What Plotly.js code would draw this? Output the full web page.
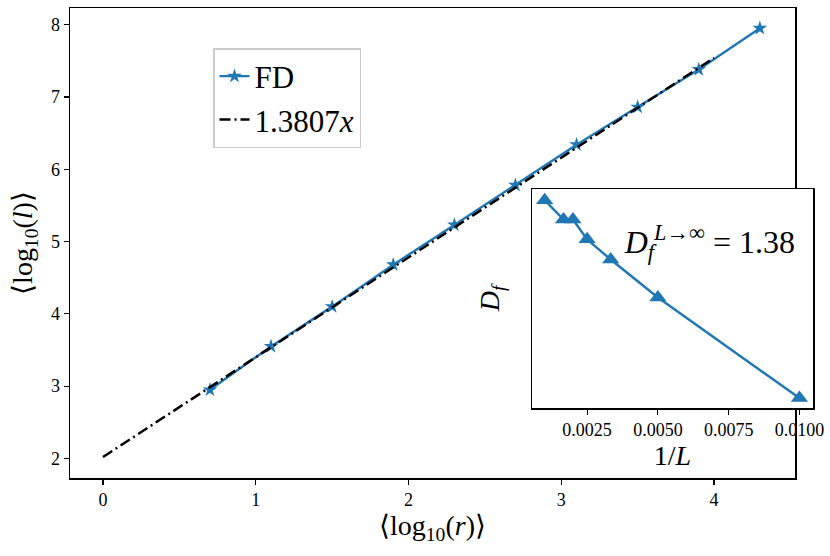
<!DOCTYPE html>
<html>
<head>
<meta charset="utf-8">
<script src="https://cdn.plot.ly/plotly-3.0.1.min.js"></script>
<style>html,body{margin:0;padding:0;background:#fff}#chart{width:830px;height:556px}</style>
</head>
<body>
<div id="chart"></div>
<script>
// Main panel: FD data
const fdX = [0.70, 1.10, 1.50, 1.90, 2.30, 2.70, 3.10, 3.50, 3.90, 4.30];
const fdY = [2.95, 3.55, 4.10, 4.68, 5.23, 5.78, 6.34, 6.86, 7.38, 7.95];
// Fit line 1.3807x (endpoints)
const fitX = [0.0, 4.0];
const fitY = [2.02, 7.54];
// Inset: D_f versus 1/L
const invL = [0.001, 0.001667, 0.002, 0.0025, 0.003333, 0.005, 0.01];
const Df   = [1.3760, 1.3715, 1.3715, 1.3669, 1.3622, 1.3534, 1.3300];
const mainXTicks = [0, 1, 2, 3, 4];
const mainYTicks = [2, 3, 4, 5, 6, 7, 8];
const insetXTicks = [0.0025, 0.005, 0.0075, 0.01];
const insetXTickText = ['0.0025', '0.0050', '0.0075', '0.0100'];

const FONT = 'Liberation Serif';
const BLUE = '#1f77b4';
const tf = {family: FONT, size: 18, color: 'black'};
const ttl = {family: FONT, size: 28, color: 'black'};

const traces = [
  {x: fdX, y: fdY, type: 'scatter', mode: 'lines+markers', name: 'FD',
   line: {color: BLUE, width: 2.4}, marker: {symbol: 'star', size: 11, color: BLUE},
   xaxis: 'x', yaxis: 'y'},
  {x: fitX, y: fitY, type: 'scatter', mode: 'lines', name: '1.3807<i>x</i>',
   line: {color: 'black', width: 2.5, dash: '11px,4px,2px,4px'}, xaxis: 'x', yaxis: 'y'},
  {x: invL, y: Df, type: 'scatter', mode: 'lines+markers', showlegend: false,
   line: {color: BLUE, width: 2.4}, marker: {symbol: 'triangle-up', size: 15, color: BLUE},
   xaxis: 'x2', yaxis: 'y2', cliponaxis: false},
  {x: [0.00383], y: [1.3655], type: 'scatter', mode: 'text', showlegend: false,
   text: ['<i>D</i><sub><i>f</i></sub><sup><i>L</i>→∞</sup> = 1.38'],
   textposition: 'middle right', textfont: {family: FONT, size: 32, color: 'black'},
   xaxis: 'x2', yaxis: 'y2', cliponaxis: true, hoverinfo: 'skip'}
];
const W = 750;
const ax = {ticks: 'outside', ticklen: 5, tickwidth: 1.2, tickcolor: 'black',
    showline: true, linecolor: 'black', linewidth: 1.5, mirror: true,
    showgrid: false, zeroline: false};
const layout = {
  width: 830, height: 556,
  margin: {l: 70, r: 10, t: 8, b: 78},
  paper_bgcolor: 'white', plot_bgcolor: 'white',
  font: {family: FONT, size: 18, color: 'black'},
  showlegend: true,
  legend: {x: (213 - 70) / W, y: (478 - 48) / 470, xanchor: 'left', yanchor: 'top',
    bgcolor: 'white', bordercolor: '#cccccc', borderwidth: 1.5,
    font: {family: FONT, size: 31, color: 'black'}, traceorder: 'normal'},
  xaxis: Object.assign({}, ax, {domain: [0, 725 / W], range: [-0.216, 4.53], tickvals: mainXTicks, tickfont: tf,
    title: {text: '⟨log<sub>10</sub>(<i>r</i>)⟩', font: ttl, standoff: 4}}),
  yaxis: Object.assign({}, ax, {domain: [0, 1], range: [1.73, 8.23], tickvals: mainYTicks, tickfont: tf,
    title: {text: '⟨log<sub>10</sub>(<i>l</i>)⟩', font: ttl, standoff: 10}}),
  xaxis2: Object.assign({}, ax, {domain: [(532 - 70) / W, (813 - 70) / W], anchor: 'y2',
    range: [0.000553, 0.01048], tickvals: insetXTicks, ticktext: insetXTickText, tickfont: tf,
    title: {text: '1/<i>L</i>', font: ttl, standoff: 2}}),
  yaxis2: Object.assign({}, ax, {domain: [(478 - 408) / 470, (478 - 189) / 470], anchor: 'x2',
    range: [1.3277, 1.3786], showticklabels: false, ticks: '',
    title: {text: '<i>D<sub>f</sub></i>', font: ttl, standoff: 22}})
};
Plotly.newPlot('chart', traces, layout, {displayModeBar: false, staticPlot: true});
</script>
</body>
</html>
